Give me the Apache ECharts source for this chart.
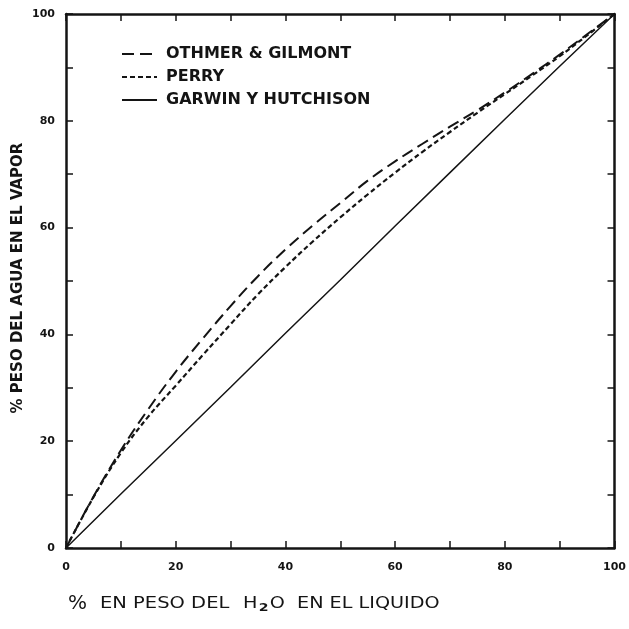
<!DOCTYPE html>
<html>
<head>
<meta charset="utf-8">
<script src="https://cdn.jsdelivr.net/npm/echarts@6/dist/echarts.min.js"></script>
<style>
  html, body { margin: 0; padding: 0; background: #fff; }
  #chart { width: 629px; height: 629px; }
</style>
</head>
<body>
<div id="chart"></div>
<script>
// Vapour-liquid equilibrium of water: weight % water in liquid (x) vs vapour (y)
const liquidPct = [0, 5, 10, 15, 20, 25, 30, 35, 40, 45, 50, 55, 60, 65, 70, 75, 80, 85, 90, 95, 100];
const othmerGilmont = [0, 9.6, 18.3, 26.0, 33.0, 39.3, 45.3, 50.9, 55.9, 60.4, 64.6, 68.8, 72.4, 75.7, 78.9, 82.0, 85.3, 88.8, 92.4, 96.2, 100];
const perry = [0, 9.5, 17.8, 24.6, 30.4, 36.2, 41.9, 47.5, 52.6, 57.4, 61.9, 66.2, 70.3, 74.2, 77.9, 81.5, 85.0, 88.5, 92.1, 96.0, 100];
const garwinLiquid = [0, 10, 20, 30, 40, 50, 60, 70, 80, 90, 100];
const garwinHutchison = [0, 10.1, 20.1, 30.1, 40.2, 50.2, 60.3, 70.3, 80.3, 90.2, 100];
const seriesNames = ['OTHMER & GILMONT', 'PERRY', 'GARWIN Y HUTCHISON'];
const tickValues = [0, 20, 40, 60, 80, 100];

const INK = '#141414';
const pairs = (xs, ys) => xs.map((x, i) => [x, ys[i]]);

const chart = echarts.init(document.getElementById('chart'), null, { renderer: 'canvas' });

const tickLabel = {
  color: INK,
  fontFamily: 'DejaVu Sans',
  fontWeight: 'bold',
  fontSize: 11,
  formatter: v => (tickValues.indexOf(v) >= 0 ? String(v) : '')
};

const baseAxis = {
  type: 'value',
  min: 0,
  max: 100,
  interval: 10,
  splitLine: { show: false },
  axisLine: { show: true, onZero: false, lineStyle: { color: INK, width: 2.5 } },
  axisTick: { show: true, inside: true, length: 7, lineStyle: { color: INK, width: 1.5 } }
};

chart.setOption({
  backgroundColor: '#ffffff',
  animation: false,
  color: [INK, INK, INK],
  grid: { left: 66, right: 10, top: 14, bottom: 81, containLabel: false },
  xAxis: [
    Object.assign({}, baseAxis, { position: 'bottom', axisLabel: Object.assign({ margin: 14 }, tickLabel) }),
    Object.assign({}, baseAxis, { position: 'top', axisLabel: { show: false } })
  ],
  yAxis: [
    Object.assign({}, baseAxis, { position: 'left', axisLabel: Object.assign({ margin: 11 }, tickLabel) }),
    Object.assign({}, baseAxis, { position: 'right', axisLabel: { show: false } })
  ],
  legend: {
    orient: 'vertical',
    left: 116,
    top: 41,
    itemWidth: 35,
    itemHeight: 12,
    itemGap: 7,
    selectedMode: false,
    data: seriesNames,
    itemStyle: { opacity: 0 },
    textStyle: {
      color: INK,
      fontFamily: 'DejaVu Sans',
      fontWeight: 'bold',
      fontSize: 16,
      lineHeight: 16,
      padding: [0, 0, 0, 4]
    }
  },
  series: [
    {
      name: seriesNames[0],
      type: 'line',
      data: pairs(liquidPct, othmerGilmont),
      smooth: 0.4,
      symbol: 'none',
      itemStyle: { color: INK },
      lineStyle: { color: INK, width: 2, type: [12, 6] }
    },
    {
      name: seriesNames[1],
      type: 'line',
      data: pairs(liquidPct, perry),
      smooth: 0.4,
      symbol: 'none',
      itemStyle: { color: INK },
      lineStyle: { color: INK, width: 2.2, type: [5, 3] }
    },
    {
      name: seriesNames[2],
      type: 'line',
      data: pairs(garwinLiquid, garwinHutchison),
      symbol: 'none',
      itemStyle: { color: INK },
      lineStyle: { color: INK, width: 1.5, type: 'solid' }
    }
  ],
  graphic: [
    {
      type: 'text',
      x: 18, y: 278,
      rotation: Math.PI / 2,
      style: {
        text: '% PESO DEL AGUA EN EL VAPOR',
        fill: INK,
        fontFamily: 'DejaVu Sans',
        fontWeight: 'bold',
        fontSize: 15,
        align: 'center',
        verticalAlign: 'middle'
      }
    },
    {
      type: 'text',
      x: 68, y: 604,
      style: { text: '%', fill: INK, fontFamily: 'DejaVu Sans', fontSize: 20, align: 'left', verticalAlign: 'middle' }
    },
    {
      type: 'text',
      x: 100, y: 604, scaleX: 1.3,
      style: { text: 'EN PESO DEL', fill: INK, fontFamily: 'DejaVu Sans', fontSize: 15, align: 'left', verticalAlign: 'middle' }
    },
    {
      type: 'text',
      x: 243, y: 604, scaleX: 1.28,
      style: {
        text: 'H{s|2}O',
        fill: INK, fontFamily: 'DejaVu Sans', fontSize: 15, align: 'left', verticalAlign: 'middle',
        rich: { s: { fontFamily: 'DejaVu Sans', fontWeight: 'bold', fontSize: 11, fill: INK, padding: [8, 1, 0, 1] } }
      }
    },
    {
      type: 'text',
      x: 297, y: 604, scaleX: 1.28,
      style: { text: 'EN EL LIQUIDO', fill: INK, fontFamily: 'DejaVu Sans', fontSize: 15, align: 'left', verticalAlign: 'middle' }
    }
  ]
});
</script>
</body>
</html>
